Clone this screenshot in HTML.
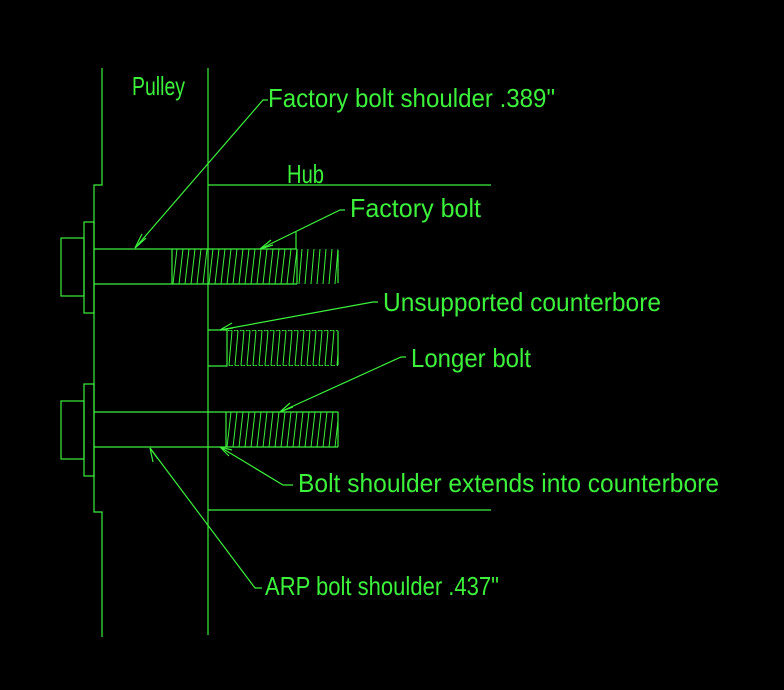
<!DOCTYPE html>
<html><head><meta charset="utf-8"><style>html,body{margin:0;padding:0;background:#000;}svg{display:block}</style></head>
<body>
<svg width="784" height="690" viewBox="0 0 784 690" xmlns="http://www.w3.org/2000/svg">
<defs>
<pattern id="p1" patternUnits="userSpaceOnUse" x="172" y="249" width="6" height="35"><line x1="5" y1="0" x2="1" y2="35" stroke="#3cf03c" stroke-width="1"/></pattern>
<pattern id="p1b" patternUnits="userSpaceOnUse" x="297" y="249" width="6" height="35"><path d="M1,0 Q3,-2 5,0 L2,35 Q4,37 6,35" fill="none" stroke="#3cf03c" stroke-width="1"/></pattern>
<pattern id="p2" patternUnits="userSpaceOnUse" x="227" y="330" width="6" height="36"><path d="M1,1 Q3,-1 5,1 L2,35 Q4,37 6,35" fill="none" stroke="#3cf03c" stroke-width="1"/></pattern>
<pattern id="p3" patternUnits="userSpaceOnUse" x="226" y="412" width="6" height="35"><line x1="5" y1="0" x2="1" y2="35" stroke="#3cf03c" stroke-width="1"/></pattern>
</defs>
<rect width="784" height="690" fill="#000"/>
<rect x="172" y="249" width="125" height="35" fill="url(#p1)"/>
<rect x="297" y="249" width="41" height="35" fill="url(#p1b)"/>
<rect x="227" y="330" width="111" height="36" fill="url(#p2)"/>
<rect x="226" y="412" width="112" height="35" fill="url(#p3)"/>
<g stroke="#3cf03c" stroke-width="1.2" fill="none">
<polyline points="102,68 102,185 94,185 94,512 102,512 102,637"/>
<line x1="208" y1="68" x2="208" y2="635"/>
<line x1="208" y1="185" x2="491" y2="185"/>
<line x1="208" y1="510" x2="491" y2="510"/>
<rect x="61" y="238" width="23" height="58"/>
<rect x="84" y="222" width="10" height="91"/>
<line x1="94" y1="249" x2="297" y2="249"/>
<line x1="94" y1="284" x2="297" y2="284"/>
<line x1="172" y1="249" x2="172" y2="284"/>
<line x1="297" y1="249" x2="297" y2="284"/>
<line x1="338" y1="250" x2="338" y2="283"/>
<line x1="296" y1="232" x2="296" y2="249"/>
<polyline points="208,330 227,330 227,366 208,366"/>
<line x1="338" y1="331" x2="338" y2="365"/>
<rect x="61" y="401" width="23" height="58"/>
<rect x="84" y="384" width="10" height="92"/>
<line x1="94" y1="412" x2="338" y2="412"/>
<line x1="94" y1="447" x2="338" y2="447"/>
<line x1="338" y1="412" x2="338" y2="447"/>
<line x1="226" y1="412" x2="226" y2="447"/>
<polyline points="268,100 263,100 135,248"/>
<polyline points="345,210 340,210 260,249"/>
<polyline points="378,302 373,302 220,330"/>
<polyline points="406,357 401,357 280,412"/>
<polyline points="293,485 283,485 220,447"/>
<polyline points="262,588 255,588 150,448"/>
<path d="M135,248 L142,234 M135,248 L146,238"/>
<path d="M260,249 L271,240 M260,249 L273,245"/>
<path d="M220,330 L232,323 M220,330 L233,328"/>
<path d="M280,412 L290,403 M280,412 L293,407"/>
<path d="M220,447 L232,450 M220,447 L229,456"/>
<path d="M150,448 L153,462 M150,448 L158,459"/>
</g>
<g fill="#3cf03c" font-family="Liberation Sans, sans-serif" font-size="26">
<text x="132" y="95" textLength="53" lengthAdjust="spacingAndGlyphs">Pulley</text>
<text x="268" y="107" textLength="287" lengthAdjust="spacingAndGlyphs">Factory bolt shoulder .389"</text>
<text x="287" y="183" textLength="37" lengthAdjust="spacingAndGlyphs">Hub</text>
<text x="350" y="217" textLength="131" lengthAdjust="spacingAndGlyphs">Factory bolt</text>
<text x="383" y="311" textLength="278" lengthAdjust="spacingAndGlyphs">Unsupported counterbore</text>
<text x="411" y="367" textLength="120" lengthAdjust="spacingAndGlyphs">Longer bolt</text>
<text x="298" y="492" textLength="421" lengthAdjust="spacingAndGlyphs">Bolt shoulder extends into counterbore</text>
<text x="265" y="595" textLength="234" lengthAdjust="spacingAndGlyphs">ARP bolt shoulder .437"</text>
</g>
</svg>
</body></html>
